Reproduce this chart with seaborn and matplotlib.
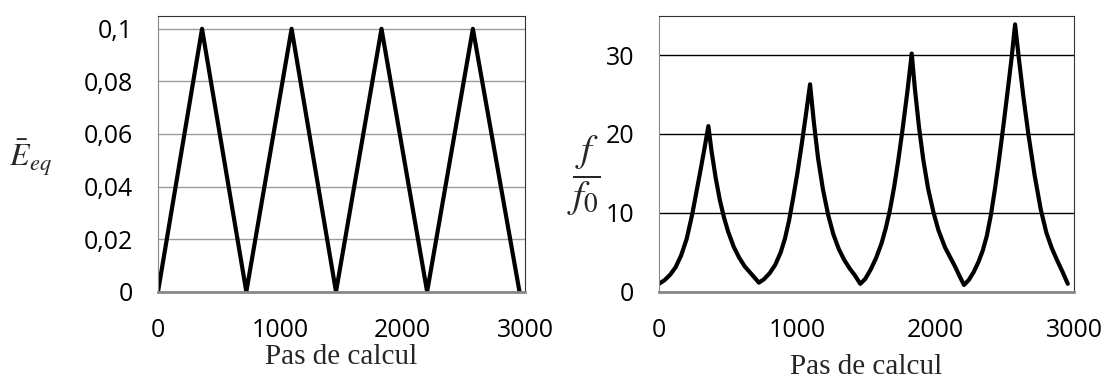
import seaborn as sns
import matplotlib.pyplot as plt

# left panel: equivalent strain vs step
pas_e = [0, 360, 722, 1092, 1455, 1827, 2200, 2574, 2955]
e_eq = [0, 0.1, 0, 0.1, 0, 0.1, 0, 0.1, 0]

# right panel: f/f0 vs step
pas_f = [0, 40, 80, 120, 160, 200, 240, 270, 300, 330, 357,
         380, 410, 440, 470, 500, 540, 580, 620, 660, 690, 722,
         760, 800, 840, 880, 910, 940, 970, 1000, 1030, 1060, 1092,
         1120, 1150, 1185, 1222, 1260, 1300, 1340, 1380, 1415, 1455,
         1490, 1530, 1570, 1610, 1640, 1670, 1700, 1730, 1760, 1795, 1827,
         1850, 1880, 1910, 1945, 1985, 2020, 2068, 2110, 2140, 2172, 2205,
         2240, 2275, 2310, 2340, 2370, 2400, 2430, 2460, 2490, 2520, 2550, 2574,
         2600, 2635, 2670, 2715, 2760, 2800, 2840, 2880, 2915, 2955]
f_f0 = [1.0, 1.46, 2.14, 3.1, 4.6, 6.7, 9.8, 12.6, 15.4, 18.3, 21.0,
        17.8, 14.4, 11.6, 9.4, 7.6, 5.7, 4.3, 3.2, 2.4, 1.8, 1.15,
        1.6, 2.35, 3.4, 5.0, 6.7, 9.0, 11.9, 15.0, 18.5, 22.2, 26.3,
        21.4, 16.9, 13.0, 9.8, 7.3, 5.4, 4.0, 2.9, 2.1, 1.0,
        1.6, 2.8, 4.3, 6.2, 8.1, 10.4, 13.3, 16.7, 20.5, 25.3, 30.2,
        25.7, 20.8, 16.8, 13.1, 10.0, 7.8, 5.6, 4.2, 3.2, 2.0, 0.85,
        1.5, 2.5, 3.8, 5.2, 7.1, 9.8, 13.2, 17.0, 21.1, 25.4, 29.8, 33.9,
        29.8, 24.6, 20.0, 14.8, 10.4, 7.5, 5.5, 3.9, 2.6, 1.0]

xticks = [0, 1000, 2000, 3000]
yticks_e = [0, 0.02, 0.04, 0.06, 0.08, 0.1]
ylabels_e = ["0", "0,02", "0,04", "0,06", "0,08", "0,1"]
yticks_f = [0, 10, 20, 30]

sns.set_style("white")
plt.rcParams['font.family'] = ['Open Sans', 'DejaVu Sans']
plt.rcParams['mathtext.fontset'] = 'stix'

fig = plt.figure(figsize=(11.06, 3.81), dpi=100)
ax1 = fig.add_axes([158 / 1106, 89.3 / 381, 367 / 1106, 276 / 381])
ax2 = fig.add_axes([659 / 1106, 89.3 / 381, 415 / 1106, 276 / 381])

sns.lineplot(x=pas_e, y=e_eq, ax=ax1, color='black', lw=3, estimator=None)
sns.lineplot(x=pas_f, y=f_f0, ax=ax2, color='black', lw=3, estimator=None)

ax1.set_xlim(0, 3000)
ax1.set_ylim(0, 0.105)
ax1.set_yticks(yticks_e)
ax1.set_yticklabels(ylabels_e)
ax2.set_xlim(0, 3000)
ax2.set_ylim(0, 35)
ax2.set_yticks(yticks_f)

for ax, gcol in ((ax1, '#9a9a9a'), (ax2, 'black')):
    ax.set_xticks(xticks)
    ax.grid(axis='y', color=gcol, lw=1)
    ax.set_axisbelow(True)
    ax.spines['left'].set_color('#888888')
    ax.spines['bottom'].set_color('#888888')
    ax.spines['bottom'].set_linewidth(2)
    ax.spines['top'].set_color('#333333')
    ax.spines['right'].set_color('#333333')
    for s in ax.spines.values():
        s.set_visible(True)
    ax.tick_params(axis='both', direction='out', length=7, width=1,
                   color='#888888', labelsize=18, labelcolor='black')
    ax.tick_params(axis='y', pad=11)
    ax.tick_params(axis='x', pad=12)
    ax.set_xlabel("Pas de calcul", family='Liberation Serif', fontsize=21)

ax1.xaxis.set_label_coords(0.5, -0.19)
ax2.xaxis.set_label_coords(0.5, -0.225)

fig.text(30 / 1106, 1 - 158 / 381, r'$\bar{E}_{eq}$', fontsize=23,
         ha='center', va='center')
fig.text(584 / 1106, 1 - 176 / 381, r'$\dfrac{f}{f_0}$', fontsize=28,
         ha='center', va='center')

fig.savefig('out.png', dpi=100)
